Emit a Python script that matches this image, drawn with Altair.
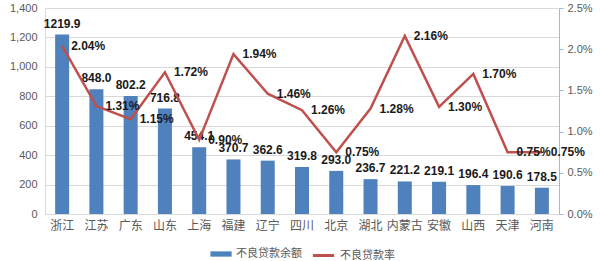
import altair as alt
import pandas as pd

provinces = ["浙江", "江苏", "广东", "山东", "上海", "福建", "辽宁", "四川", "北京", "湖北",
             "内蒙古", "安徽", "山西", "天津", "河南"]
npl_balance = [1219.9, 848.0, 802.2, 716.8, 454.1, 370.7, 362.6, 319.8, 293.0, 236.7,
               221.2, 219.1, 196.4, 190.6, 178.5]
npl_ratio = [2.04, 1.31, 1.15, 1.72, 0.90, 1.94, 1.46, 1.26, 0.75, 1.28,
             2.16, 1.30, 1.70, 0.75, 0.75]

bar_name = "不良贷款余额"
line_name = "不良贷款率"

df = pd.DataFrame({
    "prov": provinces,
    "bal": npl_balance,
    "ratio": [r / 100 for r in npl_ratio],
    "bar_s": bar_name,
    "line_s": line_name,
})

BLUE = "#4F81BD"
RED = "#C0504D"
FONT = "Liberation Sans"
CJK = "Noto Sans CJK SC"

x = alt.X("prov:N", sort=provinces, title=None,
          scale=alt.Scale(paddingInner=0.6, paddingOuter=0.3),
          axis=alt.Axis(labelAngle=0, labelFont=CJK, labelFontSize=12, labelColor="#595959",
                        labelPadding=6, ticks=False, domain=False))

y_left = alt.Y("bal:Q", title=None,
               scale=alt.Scale(domain=[0, 1400]),
               axis=alt.Axis(values=list(range(0, 1401, 200)), format=",d", labelFont=FONT,
                             labelFontSize=11, labelColor="#595959", ticks=False,
                             domainColor="#D9D9D9", gridColor="#D9D9D9", labelPadding=8))

y_right = alt.Y("ratio:Q", title=None,
                scale=alt.Scale(domain=[0, 0.025]),
                axis=alt.Axis(orient="right", values=[0, 0.005, 0.01, 0.015, 0.02, 0.025],
                              format=".1%", labelFont=FONT, labelFontSize=11,
                              labelColor="#595959", grid=False, tickSize=4,
                              tickColor="#9DB9DE", domainColor="#9DB9DE", labelPadding=4))

bars = alt.Chart(df).mark_bar(size=14).encode(
    x=x, y=y_left,
    color=alt.Color("bar_s:N", scale=alt.Scale(domain=[bar_name], range=[BLUE]),
                    legend=alt.Legend(title=None, orient="none", legendX=165, legendY=235,
                                      symbolType="M-1,-0.25H1V0.25H-1Z", symbolSize=450,
                                      symbolStrokeWidth=0, labelFont=CJK, labelFontSize=11,
                                      labelColor="#595959")),
)

bar_text = alt.Chart(df).mark_text(baseline="bottom", dy=-4, font=FONT, fontSize=12,
                                   fontWeight="bold", color="#1A1A1A").encode(
    x=x, y=y_left,
    text=alt.Text("bal:Q", format=".1f"),
)

line = alt.Chart(df).mark_line(strokeWidth=2.5).encode(
    x=x, y=y_right,
    stroke=alt.Stroke("line_s:N", scale=alt.Scale(domain=[line_name], range=[RED]),
                      legend=alt.Legend(title=None, orient="none", legendX=266, legendY=235,
                                        symbolType="stroke", symbolSize=450,
                                        symbolStrokeWidth=3, labelFont=CJK, labelFontSize=11,
                                        labelColor="#595959")),
)

line_text = alt.Chart(df).mark_text(align="left", baseline="middle", dx=9, font=FONT,
                                    fontSize=12, fontWeight="bold", color="#1A1A1A").encode(
    x=x, y=y_right,
    text=alt.Text("ratio:Q", format=".2%"),
)

left = alt.layer(bars, bar_text)
right = alt.layer(line, line_text)

chart = alt.layer(left, right).resolve_scale(y="independent").properties(
    width=514, height=206,
    autosize=alt.AutoSizeParams(type="none"),
    padding={"left": 45, "top": 8, "right": 41, "bottom": 47},
    background="white",
).configure_view(stroke=None)

chart.save("out.html", embed_options={"renderer": "svg", "actions": False})
